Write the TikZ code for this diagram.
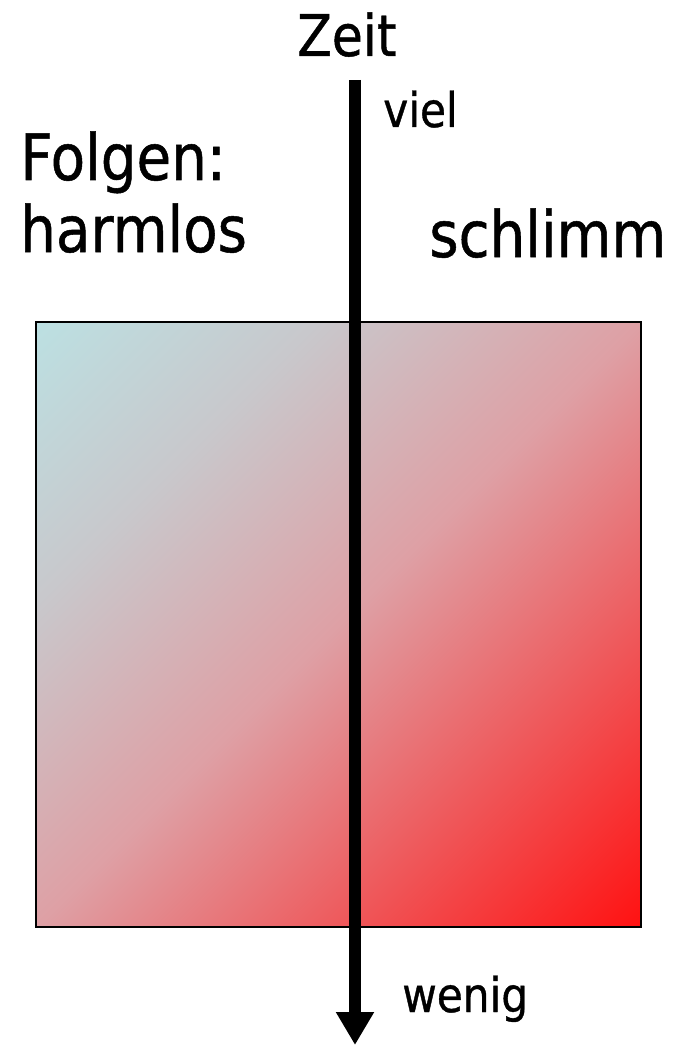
\documentclass[tikz,border=0pt]{standalone}
\usepackage{fontspec}
\newfontfamily\tah[FakeStretch=0.88,FakeBold=0.8]{DejaVu Sans}
\usetikzlibrary{arrows.meta}
\definecolor{cA}{RGB}{188,224,226}
\definecolor{cQ}{RGB}{200,200,204}
\definecolor{cM}{RGB}{222,160,165}
\definecolor{cB}{RGB}{255,18,18}
\pgfdeclarehorizontalshading{diag}{100bp}{color(0bp)=(cA); color(14.64bp)=(cA); color(30.9bp)=(cQ); color(50bp)=(cM); color(85.36bp)=(cB); color(100bp)=(cB)}
\tikzset{
  big/.style={font=\tah\fontsize{48}{52}\selectfont, inner sep=0pt},
  title/.style={font=\tah\fontsize{43}{48}\selectfont, inner sep=0pt},
  small/.style={font=\tah\fontsize{36}{40}\selectfont, inner sep=0pt},
  timearrow/.style={line width=9pt, -{Triangle[width=27pt,length=24.75pt]}},
}
\begin{document}
\begin{tikzpicture}[x=0.75pt,y=-0.75pt]
\useasboundingbox (0,0) rectangle (677,1045);
% gradient box
\path[shading=diag, shading angle=-45] (36,322) rectangle (641,927);
\draw[line width=1.6pt] (36,322) rectangle (641,927);
% labels
\node[title, anchor=base] (zeit) at (347,56) {Zeit};
\node[small, anchor=base west] (viel) at (383,127) {viel};
\node[big, anchor=base west] (folgen) at (20,180) {Folgen:};
\node[big, anchor=base west] (harmlos) at (20,252) {harmlos};
\node[big, anchor=base west] (schlimm) at (429,257) {schlimm};
\node[small, anchor=base west] (wenig) at (402,1012) {wenig};
% time arrow
\coordinate (atop) at (355,80);
\coordinate (abot) at (355,1045);
\draw[timearrow] (atop) -- (abot);
\end{tikzpicture}
\end{document}
